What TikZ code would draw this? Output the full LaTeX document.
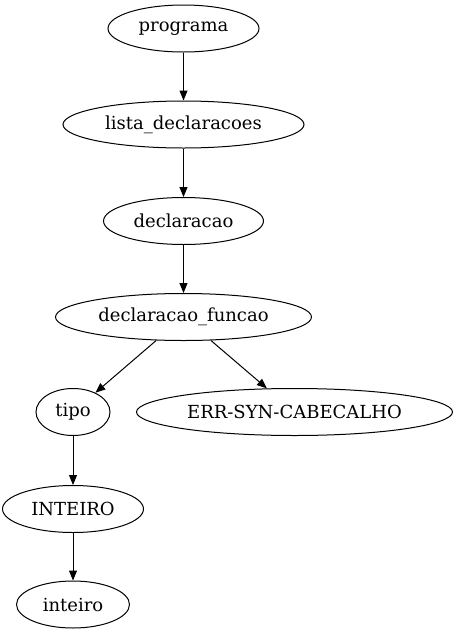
\documentclass[tikz,border=0pt]{standalone}
\usepackage{fontspec}
\setmainfont{DejaVu Serif}
\usetikzlibrary{shapes.geometric,arrows.meta}
\begin{document}
\begin{tikzpicture}[x=1pt,y=-1pt,
  nd/.style={ellipse,draw,line width=1pt,inner sep=0pt,font=\fontsize{18}{20}\selectfont},
  ed/.style={draw,line width=1pt,-{Triangle[length=10pt,width=8pt]}}]
\useasboundingbox (0,0) rectangle (458,635);
\node[nd,minimum width=151pt,minimum height=47pt] (programa) at (183.5,28.5) {programa};
\node[nd,minimum width=241pt,minimum height=47pt] (lista) at (183.5,124.5) {lista\_declaracoes};
\node[nd,minimum width=160pt,minimum height=47pt] (decl) at (183.5,221) {declaracao};
\node[nd,minimum width=256pt,minimum height=47pt] (func) at (183.5,317) {declaracao\_funcao};
\node[nd,minimum width=74pt,minimum height=47pt] (tipo) at (73,412) {tipo};
\node[nd,minimum width=316pt,minimum height=47pt] (err) at (294.5,412) {ERR-SYN-CABECALHO};
\node[nd,minimum width=141pt,minimum height=47pt] (INT) at (73,509) {INTEIRO};
\node[nd,minimum width=113pt,minimum height=47pt] (int) at (73,604.5) {inteiro};
\draw[ed] (programa) -- (lista);
\draw[ed] (lista) -- (decl);
\draw[ed] (decl) -- (func);
\draw[ed] (func) -- (tipo);
\draw[ed] (func) -- (err);
\draw[ed] (tipo) -- (INT);
\draw[ed] (INT) -- (int);
\end{tikzpicture}
\end{document}
